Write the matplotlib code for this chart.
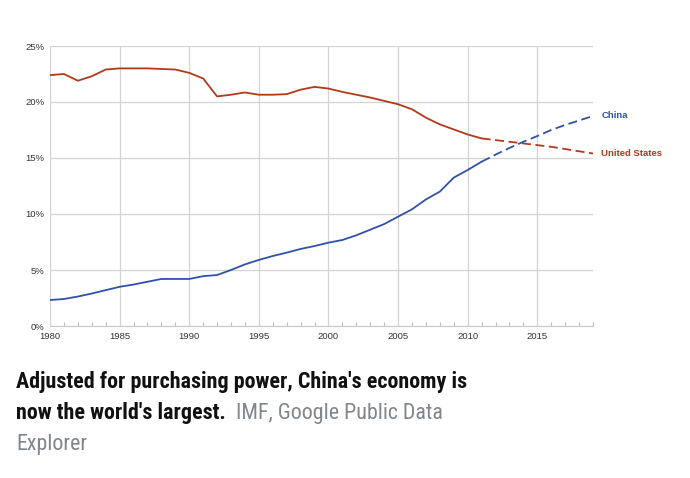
import matplotlib.pyplot as plt
import numpy as np
from matplotlib import font_manager

# share of world GDP (PPP), percent
years = list(range(1980, 2020))
us = [22.4, 22.5, 21.9, 22.3, 22.9, 23.0, 23.0, 23.0, 22.95, 22.9,
      22.6, 22.1, 20.5, 20.65, 20.85, 20.65, 20.65, 20.7, 21.1, 21.35,
      21.2, 20.9, 20.65, 20.4, 20.1, 19.8, 19.35, 18.6, 18.0, 17.55,
      17.1, 16.75, 16.6, 16.45, 16.3, 16.15, 16.0, 15.8, 15.6, 15.4]
china = [2.32, 2.41, 2.63, 2.9, 3.2, 3.5, 3.7, 3.95, 4.2, 4.2,
         4.2, 4.45, 4.55, 5.0, 5.5, 5.9, 6.25, 6.55, 6.88, 7.14,
         7.44, 7.68, 8.1, 8.6, 9.1, 9.76, 10.42, 11.3, 12.0, 13.25,
         13.93, 14.67, 15.3, 15.9, 16.45, 16.96, 17.5, 17.95, 18.35, 18.75]
last_actual = 2011

yticks = [0, 5, 10, 15, 20, 25]
ytick_labels = ["0%", "5%", "10%", "15%", "20%", "25%"]
xticks = [1980, 1985, 1990, 1995, 2000, 2005, 2010, 2015]

headline = ["Adjusted for purchasing power, China's economy is",
            "now the world's largest."]
source = ["IMF, Google Public Data", "Explorer"]

red = "#b3391b"
blue = "#2f52a8"

installed = {f.name for f in font_manager.fontManager.ttflist}
cap_font = next((f for f in ["Roboto Condensed", "Archivo Narrow", "PT Sans Narrow",
                             "Liberation Sans Narrow", "Inter"]
                 if f in installed), "DejaVu Sans")

plt.rcParams['font.family'] = ['Liberation Sans', 'DejaVu Sans']

fig = plt.figure(figsize=(6.9, 4.78), dpi=100)
ax = fig.add_axes([50 / 690, 1 - 326 / 478, 543 / 690, 280 / 478])

yrs = np.array(years)
k = years.index(last_actual)
for vals, col in [(us, red), (china, blue)]:
    v = np.array(vals)
    ax.plot(yrs[:k + 1], v[:k + 1], color=col, lw=1.3, solid_capstyle="round")
    ax.plot(yrs[k:], v[k:], color=col, lw=1.3, ls=(0, (5, 2.5)))

ax.set_xlim(1980, 2019)
ax.set_ylim(0, 25)
ax.set_yticks(yticks)
ax.set_yticklabels(ytick_labels)
ax.set_xticks(xticks)
ax.set_xticklabels([str(x) for x in xticks])
ax.set_xticks(years, minor=True)
ax.grid(True, color="#d4d4d4", lw=0.9)
ax.set_axisbelow(True)
for s in ["top", "right", "left"]:
    ax.spines[s].set_visible(False)
ax.spines["bottom"].set_color("#c8c8c8")
ax.tick_params(axis="both", which="major", length=0, labelsize=6.8,
               labelcolor="#333333")
ax.tick_params(axis="y", which="major", pad=4)
ax.tick_params(axis="x", which="major", pad=4)
ax.tick_params(axis="x", which="minor", direction="in", length=3,
               color="#bbbbbb", width=0.8)

ax.text(1.015, china[-1], "China", transform=ax.get_yaxis_transform(),
        color=blue, fontsize=6.8, fontweight="bold", va="center", clip_on=False)
ax.text(1.015, us[-1], "United States", transform=ax.get_yaxis_transform(),
        color=red, fontsize=6.8, fontweight="bold", va="center", clip_on=False)

# caption: fit first line to the width of the original (~450 px)
cap = dict(family=[cap_font, "DejaVu Sans"], va="baseline", ha="left")
x0 = 16 / 690
t1 = fig.text(x0, 1 - 388 / 478, headline[0], fontweight="bold",
              color="#111111", fontsize=17, **cap)
fig.canvas.draw()
size = min(17 * 450 / t1.get_window_extent().width, 20)
t1.set_fontsize(size)
t2 = fig.text(x0, 1 - 419 / 478, headline[1], fontweight="bold",
              color="#111111", fontsize=size, **cap)
fig.canvas.draw()
bb = t2.get_window_extent()
fig.text((bb.x1 + 10) / 690, 1 - 419 / 478, source[0], color="#80868b",
         fontsize=size, **cap)
fig.text(x0, 1 - 450 / 478, source[1], color="#80868b",
         fontsize=size, **cap)

fig.savefig("out.png", dpi=100)
